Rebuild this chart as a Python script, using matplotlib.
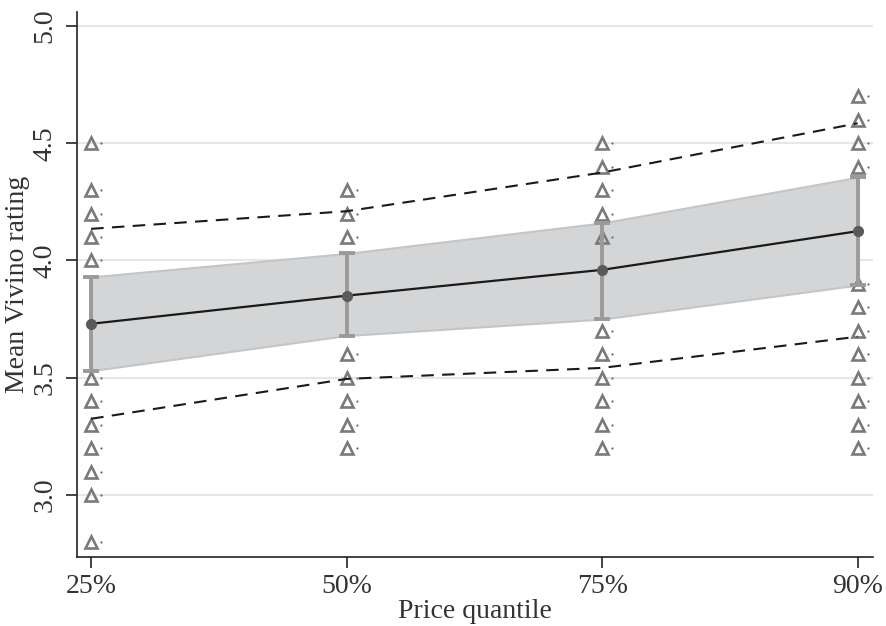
import matplotlib
matplotlib.use("Agg")
import matplotlib.pyplot as plt
import matplotlib.transforms as mtransforms

plt.rcParams["font.family"] = ["Liberation Serif", "DejaVu Serif"]

quantiles = ["25%", "50%", "75%", "90%"]
xpos = [0, 1, 2, 3]

# observed ratings per quantile (triangles)
obs_25 = [4.5, 4.3, 4.2, 4.1, 4.0, 3.5, 3.4, 3.3, 3.2, 3.1, 3.0, 2.8]
obs_50 = [4.3, 4.2, 4.1, 3.6, 3.5, 3.4, 3.3, 3.2]
obs_75 = [4.5, 4.4, 4.3, 4.2, 4.1, 3.7, 3.6, 3.5, 3.4, 3.3, 3.2]
obs_90 = [4.7, 4.6, 4.5, 4.4, 3.9, 3.8, 3.7, 3.6, 3.5, 3.4, 3.3, 3.2]

mean_rating = [3.73, 3.85, 3.96, 4.125]
ci_low = [3.53, 3.68, 3.75, 3.895]
ci_high = [3.93, 4.03, 4.16, 4.355]
pred_low = [3.325, 3.495, 3.542, 3.675]
pred_high = [4.135, 4.21, 4.375, 4.585]

fig, ax = plt.subplots(figsize=(8.86, 6.26), dpi=100)
fig.subplots_adjust(left=0.087, right=0.985, top=0.981, bottom=0.11)

ax.set_xlim(-0.055, 3.059)
ax.set_ylim(2.735, 5.06)
ax.set_yticks([3.0, 3.5, 4.0, 4.5, 5.0])
ax.set_xticks(xpos)
ax.set_xticklabels(quantiles)
ax.grid(axis="y", color="#e6e6e6", linewidth=1.5, zorder=0)
ax.set_axisbelow(True)

ax.fill_between(xpos, ci_low, ci_high, facecolor="#d4d5d7",
                edgecolor="#c4c5c7", linewidth=1.5, zorder=1)

dot_off = mtransforms.ScaledTranslation(10 / 100, 0, fig.dpi_scale_trans)
for x, obs in zip(xpos, [obs_25, obs_50, obs_75, obs_90]):
    ax.plot([x] * len(obs), obs, linestyle="none", marker="^", markersize=8.5,
            markerfacecolor="none", markeredgecolor="#7a7a7a",
            markeredgewidth=1.9, zorder=2)
    ax.plot([x] * len(obs), obs, linestyle="none", marker=".", markersize=1.2,
            color="#666666", transform=ax.transData + dot_off, zorder=2)

ax.plot(xpos, pred_high, color="#1a1a1a", linestyle=(0, (6, 4)), linewidth=1.5, zorder=3)
ax.plot(xpos, pred_low, color="#1a1a1a", linestyle=(0, (6, 4)), linewidth=1.5, zorder=3)

yerr = [[m - lo for m, lo in zip(mean_rating, ci_low)],
        [hi - m for m, hi in zip(mean_rating, ci_high)]]
ax.errorbar(xpos, mean_rating, yerr=yerr, fmt="none", ecolor="#9a9a9a",
            elinewidth=2.8, capsize=6, capthick=2.8, zorder=4)
ax.plot(xpos, mean_rating, color="#1a1a1a", linewidth=1.6, zorder=5)
ax.plot(xpos, mean_rating, linestyle="none", marker="o", markersize=7,
        color="#5a5a5a", zorder=6)

for side in ["top", "right"]:
    ax.spines[side].set_visible(False)
for side in ["left", "bottom"]:
    ax.spines[side].set_color("#222222")
    ax.spines[side].set_linewidth(1.2)

ax.tick_params(axis="both", direction="out", length=8, width=1.2,
               color="#222222", labelsize=20, labelcolor="#333333")
ax.tick_params(axis="x", pad=4)
ax.tick_params(axis="y", pad=6)
for lbl in ax.get_yticklabels():
    lbl.set_rotation(90)
    lbl.set_va("center")

ax.set_xlabel("Price quantile", fontsize=20, color="#333333", labelpad=0)
ax.set_ylabel("Mean Vivino rating", fontsize=20, color="#333333", labelpad=2)

fig.savefig("out.png", dpi=100)
